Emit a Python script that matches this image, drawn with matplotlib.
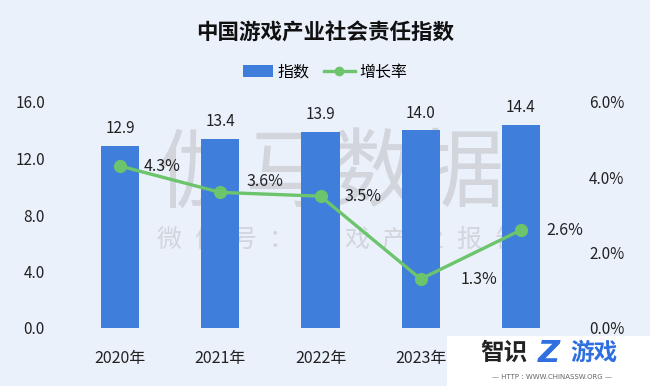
import matplotlib
matplotlib.use("Agg")
import matplotlib.pyplot as plt
from matplotlib.patches import Rectangle
from matplotlib.lines import Line2D
from matplotlib.patches import Patch

plt.rcParams['font.family'] = ['Noto Sans CJK SC', 'DejaVu Sans']

# ---- data ----
years = ["2020年", "2021年", "2022年", "2023年", "2024年"]
index_values = [12.9, 13.4, 13.9, 14.0, 14.4]
growth_rates = [4.3, 3.6, 3.5, 1.3, 2.6]
left_ticks = [0, 4, 8, 12, 16]
right_ticks = [0, 2, 4, 6]

# ---- style ----
BG = '#EBF1FB'
BAR = '#3F7EDB'
GREEN = '#6CC46C'
TXT = '#222222'
WM = '#D2D5DB'
pct_offsets = [(17, 0), (19, 8), (17, 0), (29, 0), (18, 0)]  # label offsets (points)

W, H = 650, 386
fig = plt.figure(figsize=(W / 100, H / 100), dpi=100, facecolor=BG)
ax = fig.add_axes([70 / W, 1 - 328 / H, 501 / W, 226 / H])
ax.set_facecolor(BG)
ax2 = ax.twinx()

# watermark (behind the marks)
wm_chars = "伽马数据"
for i, c in enumerate(wm_chars):
    ax.text((200 + i * 87 - 70) / 501, (328 - 176) / 226, c, transform=ax.transAxes,
            ha='center', va='center', fontsize=62, fontweight='light', color=WM, zorder=1)
wm2 = "微信号：游戏产业报告"
for i, c in enumerate(wm2):
    ax.text((169 + i * 37.5 - 70) / 501, (328 - 240) / 226, c, transform=ax.transAxes,
            ha='center', va='center', fontsize=18, fontweight='light', color=WM, zorder=1)

x = list(range(len(years)))
ax.bar(x, index_values, width=0.38, color=BAR, zorder=2)
ax.set_xlim(-0.5, len(years) - 0.5)
ax.set_ylim(0, 16)
ax.set_yticks(left_ticks)
ax.set_yticklabels([f"{v:.1f}" for v in left_ticks])
ax.set_xticks(x)
ax.set_xticklabels(years)
for v, xi in zip(index_values, x):
    ax.annotate(f"{v:.1f}", (xi, v), xytext=(0, 6), textcoords='offset points',
                ha='center', va='bottom', fontsize=11, color=TXT, zorder=3)

ax2.plot(x, growth_rates, color=GREEN, lw=2.4, marker='o', ms=8.5, zorder=3)
ax2.set_ylim(0, 6)
ax2.set_yticks(right_ticks)
ax2.set_yticklabels([f"{v:.1f}%" for v in right_ticks])
for v, xi, off in zip(growth_rates, x, pct_offsets):
    ax2.annotate(f"{v:.1f}%", (xi, v), xytext=off,
                 textcoords='offset points', ha='left', va='center',
                 fontsize=11.5, color=TXT)

for a in (ax, ax2):
    for s in a.spines.values():
        s.set_visible(False)
ax.tick_params(axis='y', length=0, pad=18, labelsize=11, labelcolor=TXT)
ax.tick_params(axis='x', length=0, pad=16, labelsize=11.5, labelcolor=TXT)
ax2.tick_params(axis='y', length=0, pad=13, labelsize=11, labelcolor=TXT)

# title
fig.text(0.5, 1 - 33 / H, "中国游戏产业社会责任指数", ha='center', va='center',
         fontsize=15.5, fontweight='bold', color='#111111')

# legend
handles = [Patch(facecolor=BAR, edgecolor='none'),
           Line2D([0], [0], color=GREEN, lw=2.4, marker='o', ms=6)]
fig.legend(handles, ["指数", "增长率"], loc='center', bbox_to_anchor=(0.5, 1 - 72 / H),
           ncol=2, frameon=False, fontsize=11.5, handlelength=1.9, handletextpad=0.3,
           columnspacing=0.9, handleheight=0.8)

# site logo overlay
fig.patches.append(Rectangle((447 / W, 0), (W - 447) / W, 50 / H, transform=fig.transFigure,
                             facecolor='white', edgecolor='none', zorder=10))
fig.text(504 / W, 1 - 353 / H, "智识", ha='center', va='center', fontsize=17,
         fontweight='heavy', color='#222222', zorder=11)
fig.text(549 / W, 1 - 353 / H, "Z", ha='center', va='center', fontsize=22,
         fontweight='bold', fontstyle='italic', color='#2F6FE0', zorder=11,
         family='DejaVu Sans')
fig.text(594 / W, 1 - 353 / H, "游戏", ha='center', va='center', fontsize=17,
         fontweight='heavy', color='#2F6FE0', zorder=11)
fig.text(552 / W, 1 - 377 / H, "— HTTP : WWW.CHINASSW.ORG —", ha='center', va='center',
         fontsize=5, color='#666666', zorder=11, family='DejaVu Sans')

fig.savefig("out.png", dpi=100, facecolor=BG)
